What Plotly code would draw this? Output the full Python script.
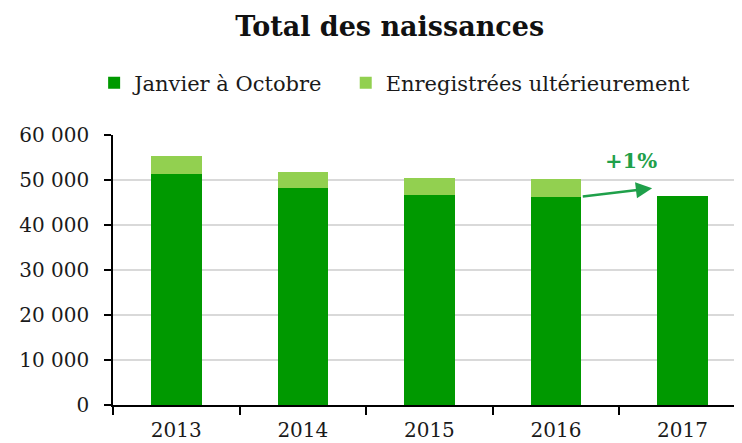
import plotly.graph_objects as go

years = ["2013", "2014", "2015", "2016", "2017"]
jan_oct = [51400, 48300, 46700, 46300, 46500]
ulterieur = [4000, 3500, 3800, 3900, 0]
y_ticks = [0, 10000, 20000, 30000, 40000, 50000, 60000]

DARK = "#009900"
LIGHT = "#92D050"
ARROW = "#1FA04A"
FONT = "DejaVu Serif"

fig = go.Figure()
fig.add_trace(go.Bar(x=years, y=jan_oct, name="Janvier à Octobre",
                     marker=dict(color=DARK, line=dict(width=0)),
                     legend="legend"))
fig.add_trace(go.Bar(x=years, y=ulterieur, name="Enregistrées ultérieurement",
                     marker=dict(color=LIGHT, line=dict(width=0)),
                     legend="legend2"))

fig.add_annotation(x=3.76, y=48150, ax=3.2, ay=jan_oct[3], xref="x", yref="y",
                   axref="x", ayref="y", text="", showarrow=True,
                   arrowhead=2, arrowsize=1.3, arrowwidth=2.5, arrowcolor=ARROW,
                   standoff=0, startstandoff=0)
fig.add_annotation(x=3.59, y=54300, xref="x", yref="y", text="<b>+1%</b>",
                   showarrow=False, font=dict(family=FONT, size=21, color=ARROW))

legend_common = dict(orientation="h", xanchor="left", y=1 + 52 / 270,
                     yanchor="middle", font=dict(family=FONT, size=21),
                     bgcolor="rgba(0,0,0,0)")

# page body has an 8px margin, so the figure is 8px smaller and offset
fig.update_layout(
    width=734, height=435,
    barmode="stack", bargap=0.6,
    separators=", ",
    paper_bgcolor="white", plot_bgcolor="white",
    margin=dict(l=105, r=0, t=127, b=38, autoexpand=False),
    font=dict(family=FONT, size=19, color="#1a1a1a"),
    title=dict(text="<b>Total des naissances</b>", x=0.52, xanchor="center",
               y=1 - 19 / 435, yanchor="middle", yref="container",
               font=dict(family=FONT, size=27, color="#111111")),
    legend=dict(x=-0.03, **legend_common),
    legend2=dict(x=0.370, **legend_common),
    showlegend=True,
)
fig.update_xaxes(type="category", range=[-0.5, 4.47], showline=True,
                 linecolor="black", linewidth=1.5, ticks="outside",
                 tickson="boundaries", ticklen=8, tickcolor="black",
                 tickwidth=1.5, showgrid=False, tickfont=dict(size=20),
                 automargin=False, ticklabelstandoff=6)
fig.update_yaxes(range=[0, 60000], tickvals=y_ticks, tickformat=",d",
                 showline=True, linecolor="black", linewidth=1.5,
                 ticks="outside", ticklen=7, tickcolor="black", tickwidth=1.5,
                 showgrid=True, gridcolor="#D9D9D9", gridwidth=1.5,
                 zeroline=False, tickfont=dict(size=20), ticklabelstandoff=11,
                 automargin=False)

fig.write_html("out.html")
